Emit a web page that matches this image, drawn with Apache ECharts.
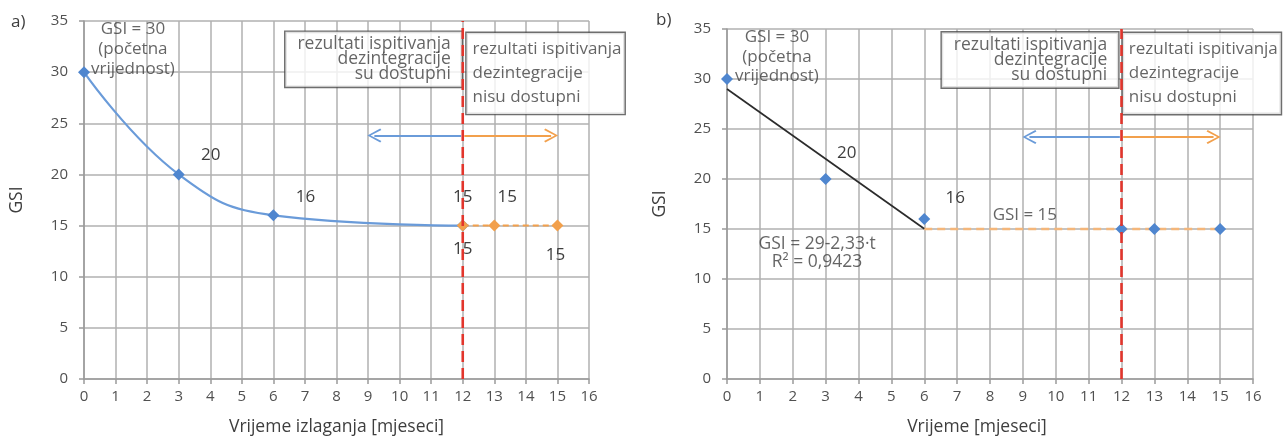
<!DOCTYPE html>
<html>
<head>
<meta charset="utf-8">
<script src="https://cdn.jsdelivr.net/npm/echarts@6/dist/echarts.min.js"></script>
<style>html,body{margin:0;background:#fff}#chart{width:1283px;height:441px}</style>
</head>
<body>
<div id="chart"></div>
<script>
// a) izmjereni GSI i zaglađena krivulja, zatim pretpostavljena konstanta
const monthsA = [0, 3, 6, 12];
const gsiA = [30, 20, 16, 15];
const monthsAfterA = [12, 13, 15];
const gsiAfterA = [15, 15, 15];
// b) izmjerene točke, linearna regresija do 6 mjeseci, zatim konstanta
const monthsB = [0, 3, 6, 12, 13, 15];
const gsiB = [30, 20, 16, 15, 15, 15];
const fitMonths = [0, 6];
const fitGsi = [29, 15.02];
const constMonths = [6, 15];
const constGsi = [15, 15];
// granica dostupnih rezultata i strelice
const limitMonth = 12;
const arrowLeftTo = 9;
const arrowRightTo = 15;
const arrowGsiA = 23.8;
const arrowGsiB = 24.2;

const FONT = 'Open Sans';
const BLUE = '#4f86cf';
const BLUE_LINE = '#6a9bd9';
const ORANGE = '#f2a04c';
const RED = '#e2352c';
const TXT = '#3e3e3e';

const zip = (xs, ys) => xs.map((x, i) => [x, ys[i]]);

// oznake vrijednosti uz točke (pomak središta teksta u px)
function labelled(pts, offsets) {
  return pts.map((p, i) => {
    const o = offsets[i];
    if (!o) return { value: p };
    return {
      value: p,
      label: { show: true, position: 'inside', offset: o, formatter: String(p[1]),
        color: TXT, fontSize: 17, fontFamily: FONT }
    };
  });
}

function axisX(idx, name, namePad) {
  return {
    type: 'value', gridIndex: idx, min: 0, max: 16, interval: 1,
    name: name, nameLocation: 'middle', nameGap: 39,
    nameTextStyle: { color: TXT, fontSize: 17.5, fontFamily: FONT, padding: namePad },
    axisLine: { onZero: false, lineStyle: { color: '#9a9a9a', width: 1.5 } },
    axisTick: { show: true, length: 5, lineStyle: { color: '#9a9a9a', width: 1.5 } },
    axisLabel: { color: '#505050', fontSize: 15, margin: 10, fontFamily: FONT },
    splitLine: { show: true, lineStyle: { color: '#b0b0b0', width: 1.5 } }
  };
}
function axisY(idx) {
  return {
    type: 'value', gridIndex: idx, min: 0, max: 35, interval: 5,
    name: 'GSI', nameLocation: 'middle', nameGap: 58, nameRotate: 90,
    nameTextStyle: { color: TXT, fontSize: 17.5, fontFamily: FONT },
    axisLine: { show: true, lineStyle: { color: '#9a9a9a', width: 1.5 } },
    axisTick: { show: true, length: 5, lineStyle: { color: '#9a9a9a', width: 1.5 } },
    axisLabel: { color: '#505050', fontSize: 15, margin: 16, fontFamily: FONT },
    splitLine: { show: true, lineStyle: { color: '#b0b0b0', width: 1.5 } }
  };
}

const chevron = 'path://M0,10 L5,0 L10,10 L8.9,10.9 L5,2.6 L1.1,10.9 Z';

function arrows(idx, y) {
  return {
    type: 'lines', coordinateSystem: 'cartesian2d', xAxisIndex: idx, yAxisIndex: idx,
    symbol: ['none', chevron], symbolSize: [18, 14], z: 4,
    data: [
      { coords: [[limitMonth - 0.05, y], [arrowLeftTo + 0.2, y]],
        lineStyle: { color: BLUE_LINE, width: 1.8, opacity: 1 } },
      { coords: [[limitMonth + 0.05, y], [arrowRightTo - 0.2, y]],
        lineStyle: { color: ORANGE, width: 1.8, opacity: 1 } }
    ]
  };
}

function limitLine(idx) {
  return {
    type: 'line', xAxisIndex: idx, yAxisIndex: idx, symbol: 'none', z: 6,
    data: [[limitMonth, 0], [limitMonth, 35]],
    lineStyle: { color: RED, width: 2.6, type: [11, 6] }
  };
}

// tekstualne bilješke bez simbola
function notes(idx, items) {
  return {
    type: 'scatter', xAxisIndex: idx, yAxisIndex: idx, symbolSize: 0, z: 5, silent: true,
    data: items.map(n => ({
      value: n.at,
      label: Object.assign({ show: true, formatter: n.text, color: TXT,
        fontSize: 17, fontFamily: FONT }, n.style)
    }))
  };
}

const boxAvail = 'rezultati ispitivanja\ndezintegracije\nsu dostupni';
const boxNot = 'rezultati ispitivanja\ndezintegracije\nnisu dostupni';
const startNote = 'GSI = 30\n(početna\nvrijednost)';
const boxStyleL = { position: 'left', distance: 0, align: 'right', lineHeight: 15, fontSize: 17.5,
  backgroundColor: '#fff', borderColor: '#4a4a4a', borderWidth: 1.4, padding: [5, 11, 5, 12] };
const boxStyleR = { position: 'right', distance: 0, align: 'left', lineHeight: 24, fontSize: 17,
  backgroundColor: '#fff', borderColor: '#4a4a4a', borderWidth: 1.4, padding: [5, 3, 4, 6] };

const chart = echarts.init(document.getElementById('chart'));
chart.setOption({
  animation: false,
  textStyle: { fontFamily: FONT },
  grid: [
    { left: 84, top: 21, width: 505, height: 358 },
    { left: 727, top: 29, width: 526, height: 350 }
  ],
  xAxis: [axisX(0, 'Vrijeme izlaganja [mjeseci]', [0, 0, 0, 0]),
          axisX(1, 'Vrijeme [mjeseci]', [0, 26, 0, 0])],
  yAxis: [axisY(0), axisY(1)],
  graphic: [
    { type: 'text', left: 11, top: 14, style: { text: 'a)', fontSize: 17, fill: TXT, fontFamily: FONT } },
    { type: 'text', left: 656, top: 12, style: { text: 'b)', fontSize: 17, fill: TXT, fontFamily: FONT } }
  ],
  series: [
    // ---- a) ----
    {
      type: 'line', xAxisIndex: 0, yAxisIndex: 0, smooth: 0.45,
      symbol: 'diamond', symbolSize: 12, z: 3,
      itemStyle: { color: BLUE }, lineStyle: { color: BLUE_LINE, width: 2.2 },
      data: labelled(zip(monthsA, gsiA), [null, [32, -19], [32, -18], [0, -28]])
    },
    {
      type: 'line', xAxisIndex: 0, yAxisIndex: 0, symbol: 'diamond', symbolSize: 12, z: 3,
      itemStyle: { color: ORANGE }, lineStyle: { color: ORANGE, width: 2, type: [6, 4] },
      data: labelled(zip(monthsAfterA, gsiAfterA), [[0, 24], [13, -28], [-2, 30]])
    },
    limitLine(0),
    arrows(0, arrowGsiA),
    notes(0, [
      { at: [1.55, 32.2], text: startNote, style: { lineHeight: 20 } },
      { at: [11.97, 31.25], text: boxAvail, style: boxStyleL },
      { at: [12.12, 29.87], text: boxNot, style: boxStyleR }
    ]),
    // ---- b) ----
    {
      type: 'line', xAxisIndex: 1, yAxisIndex: 1, symbol: 'none', z: 2,
      lineStyle: { color: '#f4b67a', width: 2.6, type: [8, 5] },
      data: zip(constMonths, constGsi)
    },
    {
      type: 'line', xAxisIndex: 1, yAxisIndex: 1, symbol: 'none', z: 2,
      lineStyle: { color: '#2b2b2b', width: 1.7 },
      data: zip(fitMonths, fitGsi)
    },
    {
      type: 'scatter', xAxisIndex: 1, yAxisIndex: 1, symbol: 'diamond', symbolSize: 12, z: 3,
      itemStyle: { color: BLUE, opacity: 1 },
      data: labelled(zip(monthsB, gsiB), [null, [21, -26], [31, -21]])
    },
    limitLine(1),
    arrows(1, arrowGsiB),
    notes(1, [
      { at: [1.52, 32.2], text: startNote, style: { lineHeight: 19.5 } },
      { at: [9.06, 16.4], text: 'GSI = 15' },
      { at: [2.74, 12.6], text: 'GSI = 29-2,33·t\nR² = 0,9423', style: { lineHeight: 18, fontSize: 17.5 } },
      { at: [11.9, 31.9], text: boxAvail, style: boxStyleL },
      { at: [12.04, 30.55], text: boxNot, style: boxStyleR }
    ])
  ]
});
</script>
</body>
</html>
